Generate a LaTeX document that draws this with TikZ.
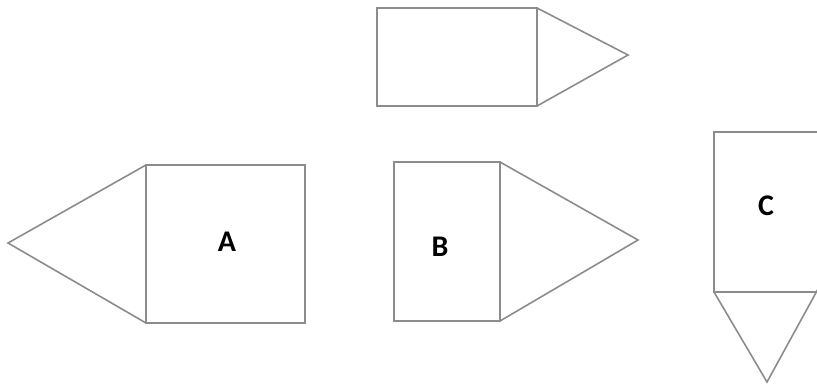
\documentclass[tikz,border=0pt]{standalone}
\usepackage{fontspec}
\setmainfont{Carlito}
\begin{document}
\begin{tikzpicture}[x=1pt,y=-1pt,
  shp/.style={draw=black!45, line width=1.6pt, line join=miter},
  lbl/.style={font=\fontsize{30}{31}\selectfont\bfseries, text=black, inner sep=0pt}]
\useasboundingbox (0,0) rectangle (817,386);
% top shape
\draw[shp] (377,8) rectangle (537,106);
\draw[shp] (537,8) -- (628,55) -- (537,106);
% A
\draw[shp] (146,165) rectangle (305,323);
\draw[shp] (146,165) -- (8,243) -- (146,323);
\node[lbl] (a) at (227,242) {A};
% B
\draw[shp] (394,162) rectangle (500,321);
\draw[shp] (500,162) -- (638,240) -- (500,321);
\node[lbl] (b) at (440,247) {B};
% C (right side runs off the picture)
\draw[shp] (820,132) -- (714,132) -- (714,292) -- (820,292);
\draw[shp] (714,292) -- (767,382) -- (818,289);
\node[lbl] (c) at (766,206) {C};
\end{tikzpicture}
\end{document}
